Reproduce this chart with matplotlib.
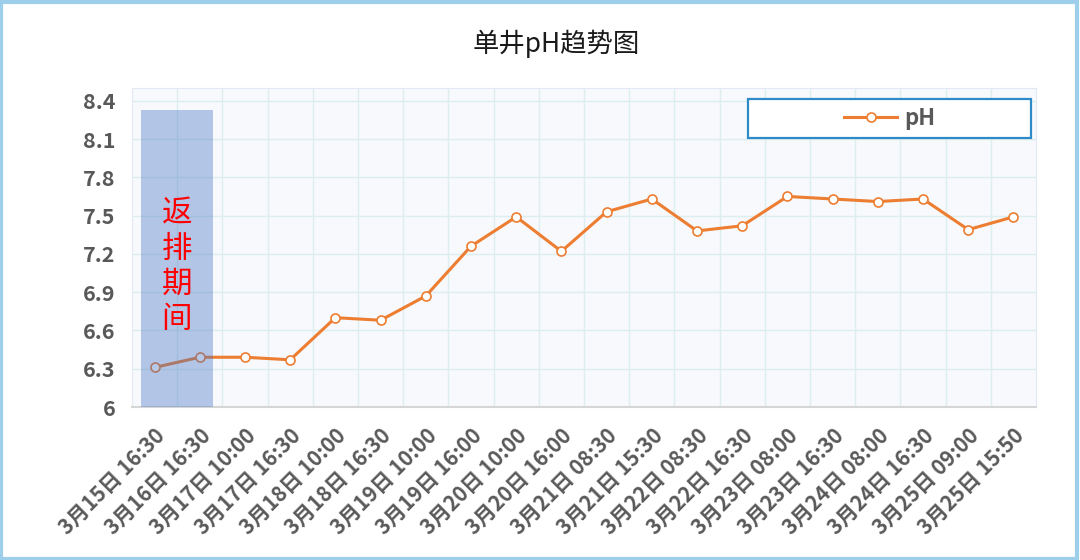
import matplotlib
matplotlib.use("Agg")
import matplotlib.pyplot as plt
import numpy as np
from matplotlib.patches import Rectangle

plt.rcParams["font.family"] = ["Noto Sans CJK SC", "DejaVu Sans"]

# data
times = [
    "3月15日 16:30", "3月16日 16:30", "3月17日 10:00", "3月17日 16:30",
    "3月18日 10:00", "3月18日 16:30", "3月19日 10:00", "3月19日 16:00",
    "3月20日 10:00", "3月20日 16:00", "3月21日 08:30", "3月21日 15:30",
    "3月22日 08:30", "3月22日 16:30", "3月23日 08:00", "3月23日 16:30",
    "3月24日 08:00", "3月24日 16:30", "3月25日 09:00", "3月25日 15:50",
]
ph = [6.31, 6.39, 6.39, 6.37, 6.70, 6.68, 6.87, 7.26, 7.49, 7.22,
      7.53, 7.63, 7.38, 7.42, 7.65, 7.63, 7.61, 7.63, 7.39, 7.49]
yticks = [6, 6.3, 6.6, 6.9, 7.2, 7.5, 7.8, 8.1, 8.4]
ytick_labels = ["6", "6.3", "6.6", "6.9", "7.2", "7.5", "7.8", "8.1", "8.4"]

# flowback period band (category units / pH units)
band_x = (-0.31, 1.3)
band_top = 8.33
band_label = "返排期间"

ORANGE = "#ED7D31"
GRID = "#DCEEF0"
TEXT = "#595959"

fig = plt.figure(figsize=(10.8, 5.6), dpi=100)
ax = fig.add_axes([0.1222, 0.2732, 0.8371, 0.5697])
ax.set_facecolor("#F7F9FC")

x = np.arange(len(times))
ax.plot(x, ph, color=ORANGE, linewidth=2.2, marker="o", markersize=6.5,
        markerfacecolor="white", markeredgecolor=ORANGE, markeredgewidth=1.2,
        label="pH", zorder=3)

ax.add_patch(Rectangle((band_x[0], 6), band_x[1] - band_x[0], band_top - 6,
                       facecolor="#4472C4", alpha=0.38, edgecolor="none", zorder=4))
ax.text((band_x[0] + band_x[1]) / 2, 7.1, "\n".join(band_label), color="#FF0000",
        fontsize=22, ha="center", va="center", linespacing=1.17, zorder=5)

ax.set_xlim(-0.5, len(times) - 0.5)
ax.set_ylim(6, 8.5)
ax.set_yticks(yticks)
ax.set_yticklabels(ytick_labels, fontsize=15.5, fontweight="bold", color=TEXT)
ax.set_xticks(x)
ax.set_xticklabels(times, rotation=45, ha="right", rotation_mode="anchor",
                   fontsize=15, fontweight="bold", color=TEXT)
ax.tick_params(axis="x", length=0, pad=13)
ax.tick_params(axis="y", length=0, pad=12)

# grid: vertical lines on category boundaries, horizontal every 0.3
for b in np.arange(0.5, len(times) - 0.5, 1):
    ax.axvline(b, color=GRID, linewidth=1, zorder=1)
for t in yticks[1:]:
    ax.axhline(t, color=GRID, linewidth=1, zorder=1)

for side in ["top", "right", "left"]:
    ax.spines[side].set_color("#E2E9F5")
ax.spines["bottom"].set_color("#D6D6D6")
ax.spines["bottom"].set_linewidth(1.5)

# legend box drawn separately so the entry sits centred in a wide frame
box = Rectangle((0.681, 0.843), 0.3135, 0.1225, transform=ax.transAxes,
                facecolor="white", edgecolor="#2E8BC8", linewidth=1.6, zorder=6)
ax.add_patch(box)
leg = ax.legend(loc="center", bbox_to_anchor=(0.8378, 0.904), fontsize=16,
                frameon=False, handlelength=2.4, handletextpad=0.3)
leg.set_zorder(7)
for t in leg.get_texts():
    t.set_color(TEXT)
    t.set_fontweight("bold")

fig.text(0.515, 0.922, "单井pH趋势图", fontsize=19, ha="center", va="center",
         color="#1A1A1A")

# light blue outer frame
fig.patches.append(Rectangle((0.001, 0.002), 0.996, 0.995, transform=fig.transFigure,
                             fill=False, edgecolor="#9DCFEA", linewidth=3))

fig.savefig("out.png", dpi=100)
